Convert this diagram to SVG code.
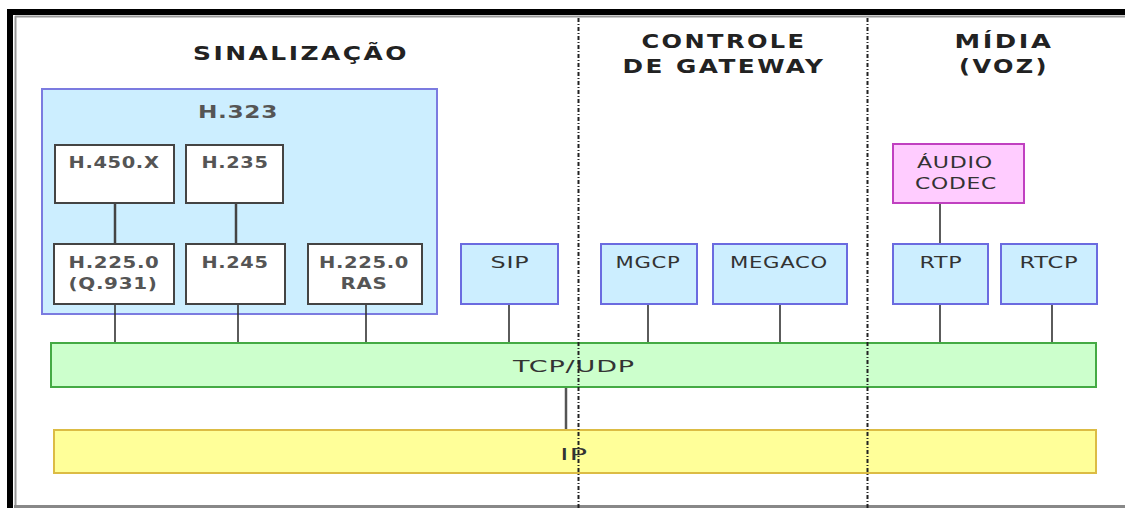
<svg xmlns="http://www.w3.org/2000/svg" width="1125" height="508" viewBox="0 0 1125 508">
<style>
.title{font-family:"DejaVu Sans",Verdana,sans-serif;font-weight:bold;font-size:20px;letter-spacing:2px;fill:#222;text-anchor:middle}
.lbl{font-family:"DejaVu Sans",Verdana,sans-serif;font-size:15px;letter-spacing:0.5px;fill:#333;text-anchor:middle}
.lblb{font-family:"DejaVu Sans",Verdana,sans-serif;font-size:15px;letter-spacing:0.5px;font-weight:bold;fill:#555;text-anchor:middle}
.white{fill:#ffffff;stroke:#444;stroke-width:2}
.blue{fill:#cceeff;stroke:#6b6be0;stroke-width:2}
.pink{fill:#ffccff;stroke:#c040c0;stroke-width:2}
.conn{stroke:#333;stroke-width:1.6;fill:none}
.conn2{stroke:#444;stroke-width:2.5;fill:none}
.sep{stroke:#222;stroke-width:2;stroke-dasharray:4 2 1 2;fill:none}
</style>
<rect x="0" y="0" width="1125" height="508" fill="#ffffff"/>
<!-- frame -->
<rect x="7" y="9" width="1118" height="6" fill="#000"/>
<rect x="7" y="9" width="6" height="499" fill="#000"/>
<line x1="15" y1="16.5" x2="1125" y2="16.5" stroke="#999" stroke-width="2"/>
<line x1="15.5" y1="16" x2="15.5" y2="508" stroke="#999" stroke-width="2"/>
<line x1="14" y1="506.5" x2="1125" y2="506.5" stroke="#888" stroke-width="3"/>

<!-- section titles -->
<g id="titles">
<text class="title" x="301" y="60" textLength="216" lengthAdjust="spacingAndGlyphs">SINALIZAÇÃO</text>
<text class="title" x="724" y="48" textLength="165" lengthAdjust="spacingAndGlyphs">CONTROLE</text>
<text class="title" x="724" y="73" textLength="203" lengthAdjust="spacingAndGlyphs">DE GATEWAY</text>
<text class="title" x="1004" y="48" textLength="99" lengthAdjust="spacingAndGlyphs">MÍDIA</text>
<text class="title" x="1004" y="73" textLength="90" lengthAdjust="spacingAndGlyphs">(VOZ)</text>
</g>

<g id="h323">
<rect class="blue" x="42" y="89" width="395" height="225" style="stroke:#7b7be0"/>
<text class="lblb" x="238" y="118" style="font-size:18px" textLength="80" lengthAdjust="spacingAndGlyphs">H.323</text>
</g>

<!-- connectors -->
<g id="connectors">
<line class="conn2" x1="115" y1="203" x2="115" y2="244"/>
<line class="conn2" x1="236" y1="203" x2="236" y2="244"/>
<line class="conn" x1="115" y1="304" x2="115" y2="343"/>
<line class="conn" x1="238" y1="304" x2="238" y2="343"/>
<line class="conn" x1="366" y1="304" x2="366" y2="343"/>
<line class="conn" x1="509" y1="304" x2="509" y2="343"/>
<line class="conn" x1="648" y1="304" x2="648" y2="343"/>
<line class="conn" x1="780" y1="304" x2="780" y2="343"/>
<line class="conn" x1="940" y1="203" x2="940" y2="244"/>
<line class="conn" x1="940" y1="304" x2="940" y2="343"/>
<line class="conn" x1="1052" y1="304" x2="1052" y2="343"/>
<line class="conn" x1="566" y1="387" x2="566" y2="430" style="stroke:#555;stroke-width:2.5"/>
</g>

<g id="h450x">
<rect class="white" x="55" y="145" width="119" height="58"/>
<text class="lblb" x="114" y="168" textLength="91" lengthAdjust="spacingAndGlyphs">H.450.X</text>
</g>
<g id="h235">
<rect class="white" x="186" y="145" width="97" height="58"/>
<text class="lblb" x="235" y="168" textLength="67" lengthAdjust="spacingAndGlyphs">H.235</text>
</g>
<g id="h2250q931">
<rect class="white" x="54" y="244" width="120" height="60"/>
<text class="lblb" x="114" y="268" textLength="91" lengthAdjust="spacingAndGlyphs">H.225.0</text>
<text class="lblb" x="113" y="289" textLength="89" lengthAdjust="spacingAndGlyphs">(Q.931)</text>
</g>
<g id="h245">
<rect class="white" x="186" y="244" width="99" height="60"/>
<text class="lblb" x="235" y="268" textLength="67" lengthAdjust="spacingAndGlyphs">H.245</text>
</g>
<g id="h2250ras">
<rect class="white" x="308" y="244" width="114" height="60"/>
<text class="lblb" x="364" y="268" textLength="90" lengthAdjust="spacingAndGlyphs">H.225.0</text>
<text class="lblb" x="364" y="289" textLength="47" lengthAdjust="spacingAndGlyphs">RAS</text>
</g>

<g id="sip">
<rect class="blue" x="461" y="244" width="97" height="60"/>
<text class="lbl" x="510" y="268" textLength="39" lengthAdjust="spacingAndGlyphs">SIP</text>
</g>
<g id="mgcp">
<rect class="blue" x="601" y="244" width="96" height="60"/>
<text class="lbl" x="648" y="268" textLength="65" lengthAdjust="spacingAndGlyphs">MGCP</text>
</g>
<g id="megaco">
<rect class="blue" x="713" y="244" width="134" height="60"/>
<text class="lbl" x="779" y="268" textLength="98" lengthAdjust="spacingAndGlyphs">MEGACO</text>
</g>
<g id="audiocodec">
<rect class="pink" x="893" y="144" width="131" height="59"/>
<text class="lbl" x="955" y="168" textLength="76" lengthAdjust="spacingAndGlyphs">ÁUDIO</text>
<text class="lbl" x="956" y="189" textLength="82" lengthAdjust="spacingAndGlyphs">CODEC</text>
</g>
<g id="rtp">
<rect class="blue" x="893" y="244" width="95" height="60"/>
<text class="lbl" x="941" y="268" textLength="43" lengthAdjust="spacingAndGlyphs">RTP</text>
</g>
<g id="rtcp">
<rect class="blue" x="1001" y="244" width="96" height="60"/>
<text class="lbl" x="1049" y="268" textLength="59" lengthAdjust="spacingAndGlyphs">RTCP</text>
</g>

<g id="tcpudp">
<rect x="51" y="343" width="1045" height="44" fill="#ccffcc" stroke="#44aa44" stroke-width="2"/>
<text class="lbl" x="574" y="372" style="font-size:16px" textLength="122" lengthAdjust="spacingAndGlyphs">TCP/UDP</text>
</g>
<g id="ip">
<rect x="54" y="430" width="1042" height="43" fill="#ffff99" stroke="#dcbc44" stroke-width="2"/>
<text class="lbl" x="574" y="460" style="font-size:16px" textLength="28" lengthAdjust="spacingAndGlyphs">IP</text>
</g>

<!-- section separators -->
<g id="separators">
<line class="sep" x1="578.5" y1="18" x2="578.5" y2="508"/>
<line class="sep" x1="867.5" y1="18" x2="867.5" y2="508"/>
</g>
</svg>
